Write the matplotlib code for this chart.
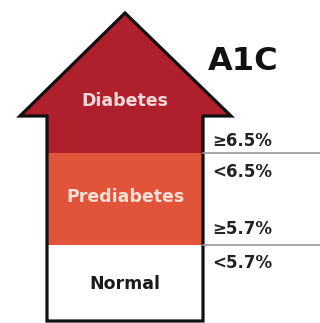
import matplotlib.pyplot as plt
from matplotlib.patches import Polygon, Rectangle

# categories and A1C threshold labels
categories = ['Diabetes', 'Prediabetes', 'Normal']
colors = ['#B01F2C', '#E2543A', '#FFFFFF']
text_colors = ['#F6DADA', '#FBE0D8', '#1A1A1A']
upper_labels = ['≥6.5%', '≥5.7%']
lower_labels = ['<6.5%', '<5.7%']

fig = plt.figure(figsize=(3.2, 3.23), dpi=100)
ax = fig.add_axes([0, 0, 1, 1])
ax.set_xlim(0, 320)
ax.set_ylim(323, 0)
ax.axis('off')

# layout (pixels)
shaft_l, shaft_r = 47, 203
wing_l, wing_r = 20, 231
tip_x, tip_y = 125, 13
wing_y = 116
bounds = [153, 245, 321]

# arrow head + diabetes part of the shaft
head = Polygon([(tip_x, tip_y), (wing_r, wing_y), (shaft_r, wing_y), (shaft_r, bounds[0]),
                (shaft_l, bounds[0]), (shaft_l, wing_y), (wing_l, wing_y)],
               closed=True, facecolor=colors[0], edgecolor='none')
ax.add_patch(head)
ax.add_patch(Rectangle((shaft_l, bounds[0]), shaft_r - shaft_l, bounds[1] - bounds[0],
                       facecolor=colors[1], edgecolor='none'))
ax.add_patch(Rectangle((shaft_l, bounds[1]), shaft_r - shaft_l, bounds[2] - bounds[1],
                       facecolor=colors[2], edgecolor='none'))

# outline
outline = Polygon([(tip_x, tip_y), (wing_r, wing_y), (shaft_r, wing_y), (shaft_r, bounds[2]),
                   (shaft_l, bounds[2]), (shaft_l, wing_y), (wing_l, wing_y)],
                  closed=True, facecolor='none', edgecolor='#111111', lw=2.3, joinstyle='miter')
ax.add_patch(outline)

# gray separator lines on the right
for b in bounds[:2]:
    ax.plot([shaft_r, 320], [b, b], color='#9A9A9A', lw=1.2)

# category labels
label_y = [101, 197, 284]
for name, y, c in zip(categories, label_y, text_colors):
    ax.text(125, y, name, ha='center', va='center', fontsize=12.5, fontweight='bold', color=c)

ax.text(243, 62, 'A1C', ha='center', va='center', fontsize=23, fontweight='bold', color='#111111')

for lab, y in zip(upper_labels, [141, 229]):
    ax.text(212, y, lab, ha='left', va='center', fontsize=12, fontweight='bold', color='#222222')
for lab, y in zip(lower_labels, [172, 263]):
    ax.text(212, y, lab, ha='left', va='center', fontsize=12, fontweight='bold', color='#222222')

fig.savefig('out.png', dpi=100)
